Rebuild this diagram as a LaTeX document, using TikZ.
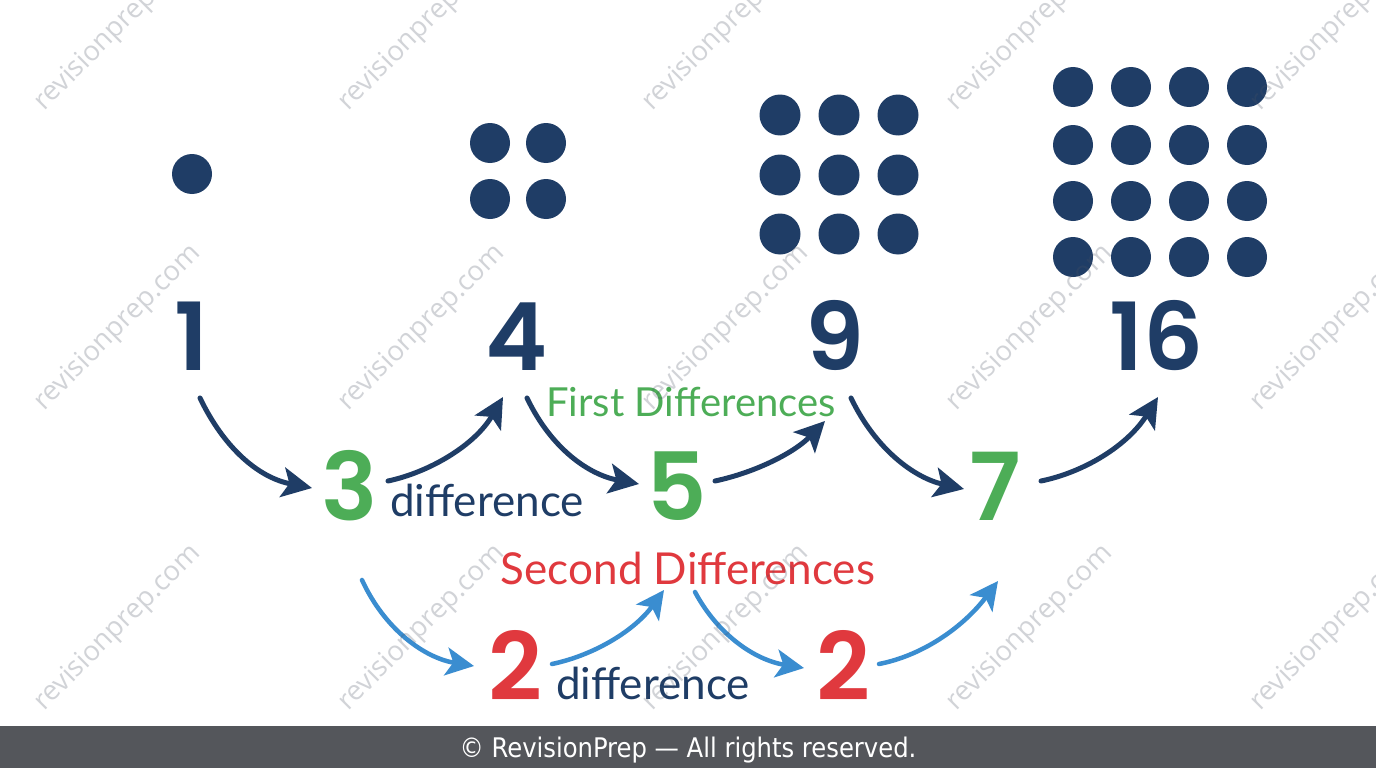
\documentclass[tikz,border=0pt]{standalone}
\usepackage{fontspec}
\setmainfont{Lato}
\newfontfamily\numfont{Poppins SemiBold}
\newfontfamily\wmfont{Open Sans}
\newfontfamily\footfont{DejaVu Sans Condensed}
\usetikzlibrary{arrows.meta}
\definecolor{navy}{HTML}{1F3D66}
\definecolor{grn}{HTML}{4DAD57}
\definecolor{rd}{HTML}{E0393E}
\definecolor{blu}{HTML}{3A8DD0}
\definecolor{footbg}{HTML}{54565B}
\definecolor{wm}{HTML}{4A5263}
\tikzset{
  dot/.style={fill=navy},
  bignum/.style={anchor=base, inner sep=0pt, font=\numfont\fontsize{94}{94}\selectfont},
  label/.style={anchor=base, inner sep=0pt},
  navyarrow/.style={draw=navy, line width=5pt, line cap=round, -{Stealth[length=30pt,width=30pt,inset=7pt]}},
  bluearrow/.style={draw=blu, line width=4.5pt, line cap=round, -{Stealth[length=28pt,width=28pt,inset=7pt]}},
  watermark/.style={rotate=45, text=wm, text opacity=0.25, font=\wmfont\fontsize{27.5}{27.5}\selectfont, inner sep=0pt}
}
\begin{document}
\begin{tikzpicture}[x=1pt,y=-1pt]
\fill[white] (0,0) rectangle (1376,768);
\useasboundingbox (0,0) rectangle (1376,768);
% dots
\fill[dot] (192,174) circle (20);
\foreach \x in {490,546} \foreach \y in {143,199} \fill[dot] (\x,\y) circle (20);
\foreach \x in {780,839,898} \foreach \y in {115,175,234} \fill[dot] (\x,\y) circle (20.5);
\foreach \x in {1073,1131,1189,1247} \foreach \y in {87,145,201,257} \fill[dot] (\x,\y) circle (20);
% numbers
\node[bignum, text=navy] (n1) at (192,370) {1};
\node[bignum, text=navy] (n4) at (517,370) {4};
\node[bignum, text=navy] (n9) at (835,370) {9};
\node[bignum, text=navy] (n16) at (1157,370) {16};
\node[bignum, text=grn] (d3) at (350,520) {3};
\node[bignum, text=grn] (d5) at (677,520) {5};
\node[bignum, text=grn] (d7) at (995,520) {7};
\node[bignum, text=rd] (s2a) at (515,700) {2};
\node[bignum, text=rd] (s2b) at (843,700) {2};
% labels
\node[label, text=navy, font=\fontsize{44}{44}\selectfont] (lab1) at (487,516) {difference};
\node[label, text=navy, font=\fontsize{44}{44}\selectfont] (lab2) at (653,699) {difference};
\node[label, text=grn, font=\fontsize{40}{40}\selectfont] (fd) at (691,416) {First Differences};
\node[label, text=rd, font=\fontsize{44}{44}\selectfont] (sd) at (688,584) {Second Differences};
% arrow end points
\coordinate (a1s) at (200,398); \coordinate (a1e) at (312,488);
\coordinate (a2s) at (388,481); \coordinate (a2e) at (503,397);
\coordinate (a3s) at (527,398); \coordinate (a3e) at (639,484);
\coordinate (a4s) at (715,481); \coordinate (a4e) at (825,421);
\coordinate (a5s) at (851,398); \coordinate (a5e) at (964,489);
\coordinate (a6s) at (1041,481); \coordinate (a6e) at (1158,397);
\coordinate (b1s) at (362,580); \coordinate (b1e) at (474,666);
\coordinate (b2s) at (552,664); \coordinate (b2e) at (664,590);
\coordinate (b3s) at (695,592); \coordinate (b3e) at (804,668);
\coordinate (b4s) at (879,664); \coordinate (b4e) at (998,581);
% navy arrows
\draw[navyarrow] (a1s) .. controls (225,450) and (260,478) .. (a1e);
\draw[navyarrow] (a2s) .. controls (430,472) and (475,445) .. (a2e);
\draw[navyarrow] (a3s) .. controls (552,450) and (590,475) .. (a3e);
\draw[navyarrow] (a4s) .. controls (757,472) and (795,452) .. (a4e);
\draw[navyarrow] (a5s) .. controls (876,450) and (915,478) .. (a5e);
\draw[navyarrow] (a6s) .. controls (1085,472) and (1128,445) .. (a6e);
% blue arrows
\draw[bluearrow] (b1s) .. controls (385,630) and (425,658) .. (b1e);
\draw[bluearrow] (b2s) .. controls (595,655) and (635,630) .. (b2e);
\draw[bluearrow] (b3s) .. controls (718,635) and (755,660) .. (b3e);
\draw[bluearrow] (b4s) .. controls (925,655) and (965,625) .. (b4e);
% watermarks
\foreach \x [count=\i] in {118,422,726,1030,1334}
  \foreach \y [count=\j] in {28,328,628}
    \node[watermark] (wm\i\j) at (\x,\y) {revisionprep.com};
% footer
\fill[footbg] (0,726) rectangle (1376,768);
\node[label, text=white, font=\footfont\fontsize{27}{27}\selectfont] (foot) at (688,757) {© RevisionPrep — All rights reserved.};
\end{tikzpicture}
\end{document}
